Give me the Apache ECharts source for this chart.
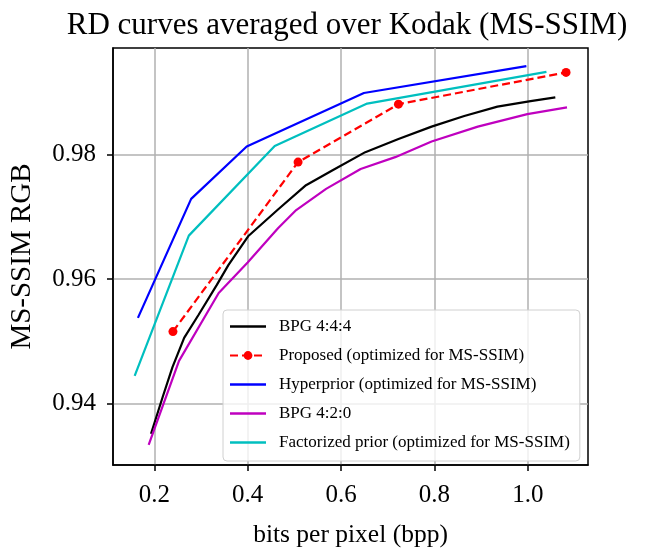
<!DOCTYPE html>
<html>
<head>
<meta charset="utf-8">
<script src="https://cdn.jsdelivr.net/npm/echarts@6/dist/echarts.min.js"></script>
<style>
  html, body { margin: 0; padding: 0; background: #fff; }
  #chart { width: 645px; height: 553px; }
</style>
</head>
<body>
<div id="chart"></div>
<script>
// values
const bpg444X = [0.193, 0.218, 0.239, 0.264, 0.295, 0.334, 0.359, 0.401, 0.465, 0.525, 0.582, 0.652, 0.723, 0.794, 0.864, 0.935, 1.006, 1.059]
const bpg444Y = [0.9352, 0.9411, 0.9459, 0.9506, 0.9543, 0.9591, 0.9623, 0.9669, 0.9712, 0.9751, 0.9775, 0.9804, 0.9825, 0.9845, 0.9862, 0.9877, 0.9886, 0.9892]
const proposedX = [0.240, 0.508, 0.723, 1.082]
const proposedY = [0.9516, 0.9788, 0.9881, 0.9932]
const hyperX = [0.165, 0.279, 0.398, 0.649, 0.997]
const hyperY = [0.9538, 0.9729, 0.9813, 0.9899, 0.9942]
const bpg420X = [0.188, 0.253, 0.338, 0.400, 0.465, 0.504, 0.568, 0.642, 0.716, 0.794, 0.893, 0.999, 1.084]
const bpg420Y = [0.9334, 0.9469, 0.9578, 0.9627, 0.9682, 0.9711, 0.9745, 0.9777, 0.9796, 0.9821, 0.9845, 0.9865, 0.9876]
const factX = [0.158, 0.274, 0.458, 0.656, 1.040]
const factY = [0.9445, 0.9670, 0.9814, 0.9882, 0.9933]
const xTicks = [0.2, 0.4, 0.6, 0.8, 1.0]
const yTicks = [0.94, 0.96, 0.98]

const serif = "'Liberation Serif', 'DejaVu Serif', serif"
const pairs = (xs, ys) => xs.map((x, i) => [x, ys[i]])
// plain line for legend entries without markers
const barIcon = 'path://M0,0 L36,0 L36,2.4 L0,2.4 Z'

function line(name, xs, ys, color, extra) {
  return Object.assign({
    name,
    type: 'line',
    data: pairs(xs, ys),
    symbol: 'none',
    lineStyle: { color, width: 2.2 },
    itemStyle: { color },
    animation: false
  }, extra || {})
}

const chart = echarts.init(document.getElementById('chart'))
chart.setOption({
  backgroundColor: '#fff',
  title: {
    text: 'RD curves averaged over Kodak (MS-SSIM)',
    left: 342,
    textAlign: 'center',
    top: 5,
    textStyle: { fontFamily: serif, fontSize: 31, fontWeight: 'normal', color: '#000' }
  },
  grid: {
    left: 108, right: 57, top: 48, bottom: 85,
    show: true, borderColor: '#000', borderWidth: 1.5, backgroundColor: 'transparent'
  },
  legend: {
    orient: 'vertical',
    left: 223,
    top: 310,
    itemWidth: 36,
    itemHeight: 11,
    itemGap: 12,
    padding: [8, 10, 10, 6],
    borderColor: '#d0d0d0',
    borderWidth: 1,
    borderRadius: 4,
    backgroundColor: 'rgba(255,255,255,0.8)',
    textStyle: { fontFamily: serif, fontSize: 17, color: '#000', padding: [0, 0, 0, 8] },
    data: [
      { name: 'BPG 4:4:4', icon: barIcon },
      { name: 'Proposed (optimized for MS-SSIM)' },
      { name: 'Hyperprior (optimized for MS-SSIM)', icon: barIcon },
      { name: 'BPG 4:2:0', icon: barIcon },
      { name: 'Factorized prior (optimized for MS-SSIM)', icon: barIcon }
    ]
  },
  xAxis: {
    type: 'value',
    min: 0.1116,
    max: 1.129,
    name: 'bits per pixel (bpp)',
    nameLocation: 'middle',
    nameGap: 57,
    nameTextStyle: { fontFamily: serif, fontSize: 25.5, color: '#000' },
    axisLine: { show: true, lineStyle: { color: '#000', width: 1.5 } },
    axisTick: { show: true, customValues: xTicks, length: 6, lineStyle: { color: '#000', width: 1.5 } },
    axisLabel: { customValues: xTicks, formatter: (v) => v.toFixed(1), fontFamily: serif, fontSize: 25, color: '#000', margin: 18 },
    splitLine: { show: true, lineStyle: { color: '#b0b0b0', width: 1.5 } }
  },
  yAxis: {
    type: 'value',
    min: 0.93018,
    max: 0.99712,
    name: 'MS-SSIM RGB',
    nameLocation: 'middle',
    nameGap: 76,
    nameTextStyle: { fontFamily: serif, fontSize: 29, color: '#000' },
    axisLine: { show: true, lineStyle: { color: '#000', width: 1.5 } },
    axisTick: { show: true, customValues: yTicks, length: 6, lineStyle: { color: '#000', width: 1.5 } },
    axisLabel: { customValues: yTicks, formatter: (v) => v.toFixed(2), fontFamily: serif, fontSize: 25, color: '#000', margin: 17 },
    splitLine: { show: true, lineStyle: { color: '#b0b0b0', width: 1.5 } }
  },
  series: [
    line('BPG 4:4:4', bpg444X, bpg444Y, '#000000'),
    line('Proposed (optimized for MS-SSIM)', proposedX, proposedY, '#ff0000', {
      symbol: 'circle',
      symbolSize: 9,
      showSymbol: true,
      lineStyle: { color: '#ff0000', width: 2.2, type: [8, 4] }
    }),
    line('Hyperprior (optimized for MS-SSIM)', hyperX, hyperY, '#0000ff'),
    line('BPG 4:2:0', bpg420X, bpg420Y, '#bf00bf'),
    line('Factorized prior (optimized for MS-SSIM)', factX, factY, '#00bfbf')
  ]
})
</script>
</body>
</html>
